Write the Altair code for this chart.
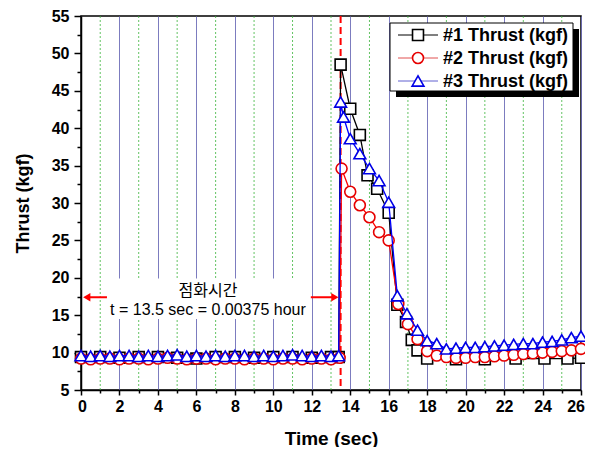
import altair as alt
import pandas as pd

# ---------------- data ----------------
names = ["#1 Thrust (kgf)", "#2 Thrust (kgf)", "#3 Thrust (kgf)"]
line_colors = ["#000000", "#ff0000", "#0000ff"]
marker_colors = ["#000000", "#e60000", "#0000e6"]
shapes = ["square", "circle", "triangle-up"]
marker_sizes = [120, 120, 140]

t1 = [0, 1, 2, 3, 4, 5, 6, 7, 8, 9, 10, 11, 12, 13, 13.4,
      13.5, 14.0, 14.5, 14.9, 15.4, 16.0, 16.45, 16.9, 17.2, 17.5, 18.0,
      19.5, 21.0, 22.6, 24.1, 25.3, 26.0]
v1 = [9.4, 9.4, 9.3, 9.4, 9.4, 9.3, 9.2, 9.4, 9.4, 9.3, 9.4, 9.4, 9.3, 9.4, 9.4,
      48.5, 42.6, 39.1, 33.7, 31.9, 28.7, 16.4, 14.1, 11.7, 10.3, 9.2,
      9.1, 9.1, 9.2, 9.2, 9.2, 9.3]

t2 = [0, 0.5, 1, 1.5, 2, 2.5, 3, 3.5, 4, 4.5, 5, 5.5, 6, 6.5, 7, 7.5, 8, 8.5,
      9, 9.5, 10, 10.5, 11, 11.5, 12, 12.5, 13, 13.45,
      13.55, 14.0, 14.5, 15.0, 15.5, 16.0, 16.5, 17.0, 17.5, 18.0, 18.5, 19.0,
      19.5, 20.0, 20.5, 21.0, 21.5, 22.0, 22.5, 23.0, 23.5, 24.0, 24.5, 25.0,
      25.5, 26.0]
v2 = [9.2, 9.1, 9.2, 9.2, 9.1, 9.2, 9.2, 9.1, 9.2, 9.3, 9.2, 9.1, 9.2, 9.2, 9.1,
      9.2, 9.2, 9.1, 9.2, 9.2, 9.1, 9.2, 9.2, 9.1, 9.2, 9.2, 9.1, 9.3,
      34.6, 31.5, 29.7, 28.1, 26.1, 25.0, 16.5, 13.8, 11.8, 10.2, 9.6, 9.4,
      9.3, 9.3, 9.4, 9.4, 9.5, 9.6, 9.7, 9.8, 9.9, 10.0, 10.1, 10.2,
      10.3, 10.5]

t3 = [0, 0.5, 1, 1.5, 2, 2.5, 3, 3.5, 4, 4.5, 5, 5.5, 6, 6.5, 7, 7.5, 8, 8.5,
      9, 9.5, 10, 10.5, 11, 11.5, 12, 12.5, 13, 13.4,
      13.5, 13.65, 14.0, 14.5, 15.0, 15.5, 16.0, 16.45, 16.95, 17.5, 18.0,
      18.5, 19.0, 19.5, 20.0, 20.5, 21.0, 21.5, 22.0, 22.5, 23.0, 23.5, 24.0,
      24.5, 25.0, 25.5, 26.0]
v3 = [9.6, 9.5, 9.6, 9.5, 9.6, 9.6, 9.5, 9.6, 9.5, 9.6, 9.7, 9.5, 9.6, 9.5,
      9.6, 9.5, 9.6, 9.6, 9.5, 9.6, 9.5, 9.6, 9.7, 9.6, 9.5, 9.6, 9.5, 9.6,
      43.5, 41.5, 38.6, 36.6, 34.6, 33.0, 30.1, 17.6, 15.2, 13.0, 11.6,
      11.2, 10.5, 10.6, 10.7, 10.7, 10.8, 10.9, 11.0, 11.1, 11.2, 11.2, 11.4,
      11.5, 11.7, 12.0, 12.2]

x_major = [0, 2, 4, 6, 8, 10, 12, 14, 16, 18, 20, 22, 24, 26]
x_minor = [1, 3, 5, 7, 9, 11, 13, 15, 17, 19, 21, 23, 25]
y_major = [5, 10, 15, 20, 25, 30, 35, 40, 45, 50, 55]
y_minor = [7.5, 12.5, 17.5, 22.5, 27.5, 32.5, 37.5, 42.5, 47.5, 52.5]

ignition_t = 13.5
note_title = "점화시간"
note_detail = "t = 13.5 sec = 0.00375 hour"
note_x = 6.6
note_title_y = 18.25
note_detail_y = 15.75
arrow_y = 17.4

W, H = 500, 374
xs = alt.Scale(domain=[0, 26], nice=False, zero=False)
ys = alt.Scale(domain=[5, 55], nice=False, zero=False)
FONT = "Liberation Sans"
one = pd.DataFrame({"a": [0]})

# minor gridlines + minor x ticks
minor_grid = alt.Chart(pd.DataFrame({"g": x_minor})).mark_rule(
    color="#3cb43c", strokeDash=[2, 2], strokeWidth=1, opacity=0.8
).encode(
    x=alt.X("g:Q", scale=xs, axis=alt.Axis(
        values=x_minor, labels=False, tickSize=3, tickWidth=1.5, tickColor="black",
        domain=False, grid=False, title=None, orient="bottom"))
)

y_minor_ticks = alt.Chart(pd.DataFrame({"m": y_minor})).mark_rule(strokeOpacity=0).encode(
    y=alt.Y("m:Q", scale=ys, axis=alt.Axis(
        values=y_minor, labels=False, tickSize=4, tickWidth=1.5, tickColor="black",
        domain=False, grid=False, title=None, orient="left"))
)

# white box behind the note
note_box = alt.Chart(one).mark_rect(color="white").encode(
    x=alt.datum(1.35, scale=xs, axis=None), x2=alt.datum(11.95),
    y=alt.datum(14.5, scale=ys, axis=None), y2=alt.datum(19.9),
)

ign_line = alt.Chart(pd.DataFrame({"t": [ignition_t]})).mark_rule(
    color="#ff0000", strokeDash=[7, 4], strokeWidth=2
).encode(x=alt.X("t:Q", scale=xs, axis=None))

layers = [minor_grid, y_minor_ticks, note_box, ign_line]

series = [(t1, v1), (t2, v2), (t3, v3)]
first = True
for i, (tt, vv) in enumerate(series):
    df = pd.DataFrame({"t": tt, "v": vv, "s": names[i]})
    if first:
        xax = alt.Axis(values=x_major, tickSize=5, tickWidth=1.5, tickColor="black",
                       domainColor="black", domainWidth=1.5,
                       labelFlush=True, labelFlushOffset=3.5,
                       labelFont=FONT, labelFontWeight="bold", labelFontSize=16,
                       labelColor="black", labelPadding=3,
                       grid=True, gridColor="#6e6eb8", gridWidth=1, gridOpacity=0.9,
                       title="Time (sec)", titleFont=FONT, titleFontSize=19,
                       titleFontWeight="bold", titleColor="black", titlePadding=15,
                       orient="bottom")
        yax = alt.Axis(values=y_major, tickSize=7, tickWidth=1.5, tickColor="black",
                       domainColor="black", domainWidth=1.5, labelFlush=False,
                       labelFont=FONT, labelFontWeight="bold", labelFontSize=16,
                       labelColor="black", labelPadding=5, grid=False,
                       title="Thrust (kgf)", titleFont=FONT, titleFontSize=18,
                       titleFontWeight="bold", titleColor="black", titlePadding=19,
                       orient="left")
        first = False
    else:
        xax = None
        yax = None
    base = alt.Chart(df)
    ln = base.mark_line(color=line_colors[i], strokeWidth=1.3).encode(
        x=alt.X("t:Q", scale=xs, axis=xax),
        y=alt.Y("v:Q", scale=ys, axis=yax),
    )
    pt = base.mark_point(filled=True, fill="white", stroke=marker_colors[i],
                         strokeWidth=1.6, size=marker_sizes[i], opacity=1, shape=shapes[i]).encode(
        x=alt.X("t:Q", scale=xs, axis=None),
        y=alt.Y("v:Q", scale=ys, axis=None),
    )
    layers += [ln, pt]

# arrows and note text
arrows = alt.Chart(pd.DataFrame({"x1": [0.3, 11.95], "x2": [1.35, 13.15], "y": [arrow_y, arrow_y]})).mark_rule(
    color="#ff0000", strokeWidth=2
).encode(x=alt.X("x1:Q", scale=xs, axis=None), x2="x2:Q", y=alt.Y("y:Q", scale=ys, axis=None))
heads = alt.Chart(pd.DataFrame({"x": [0.3, 13.2], "y": [arrow_y, arrow_y], "sh": ["triangle-left", "triangle-right"]})).mark_point(
    filled=True, color="#ff0000", size=70, opacity=1
).encode(x=alt.X("x:Q", scale=xs, axis=None), y=alt.Y("y:Q", scale=ys, axis=None),
         shape=alt.Shape("sh:N", scale=None, legend=None))
note1 = alt.Chart(pd.DataFrame({"x": [note_x], "y": [note_title_y], "txt": [note_title]})).mark_text(
    font="Noto Sans CJK KR", fontSize=16, color="black", baseline="middle", align="center"
).encode(x=alt.X("x:Q", scale=xs, axis=None), y=alt.Y("y:Q", scale=ys, axis=None), text="txt:N")
note2 = alt.Chart(pd.DataFrame({"x": [note_x], "y": [note_detail_y], "txt": [note_detail]})).mark_text(
    font=FONT, fontSize=16, color="black", baseline="middle", align="center"
).encode(x=alt.X("x:Q", scale=xs, axis=None), y=alt.Y("y:Q", scale=ys, axis=None), text="txt:N")
layers += [arrows, heads, note1, note2]

# legend (pixel layout)
LX0, LY0, LX1, LY1 = 309, 7, 492, 75
shadow = alt.Chart(one).mark_rect(color="black").encode(
    x=alt.value(LX0 + 6), x2=alt.value(LX1 + 6), y=alt.value(LY0 + 6), y2=alt.value(LY1 + 6))
box = alt.Chart(one).mark_rect(fill="white", stroke="black", strokeWidth=1).encode(
    x=alt.value(LX0), x2=alt.value(LX1), y=alt.value(LY0), y2=alt.value(LY1))
layers += [shadow, box]
leg_line_colors = ["#000000", "#e05050", "#6060d0"]
for i in range(3):
    ry = 19 + 23 * i
    layers.append(alt.Chart(one).mark_rule(color=leg_line_colors[i], strokeWidth=1).encode(
        x=alt.value(317), x2=alt.value(357), y=alt.value(ry)))
    layers.append(alt.Chart(one).mark_point(filled=True, fill="white", stroke=marker_colors[i],
                                            strokeWidth=1.6, size=marker_sizes[i], opacity=1, shape=shapes[i]).encode(
        x=alt.value(337), y=alt.value(ry)))
    layers.append(alt.Chart(pd.DataFrame({"txt": [names[i]]})).mark_text(
        font=FONT, fontSize=18, fontWeight="bold", color="black", align="left", baseline="middle"
    ).encode(x=alt.value(362), y=alt.value(ry + 1), text="txt:N"))

chart = alt.layer(*layers).resolve_axis(x="independent", y="independent").properties(
    width=W, height=H,
    autosize=alt.AutoSizeParams(type="none"),
    padding={"left": 73, "top": 8, "right": 4, "bottom": 57},
).configure_view(stroke="black", strokeWidth=1.5)

chart.save("out.html", embed_options={"renderer": "svg", "actions": False})
